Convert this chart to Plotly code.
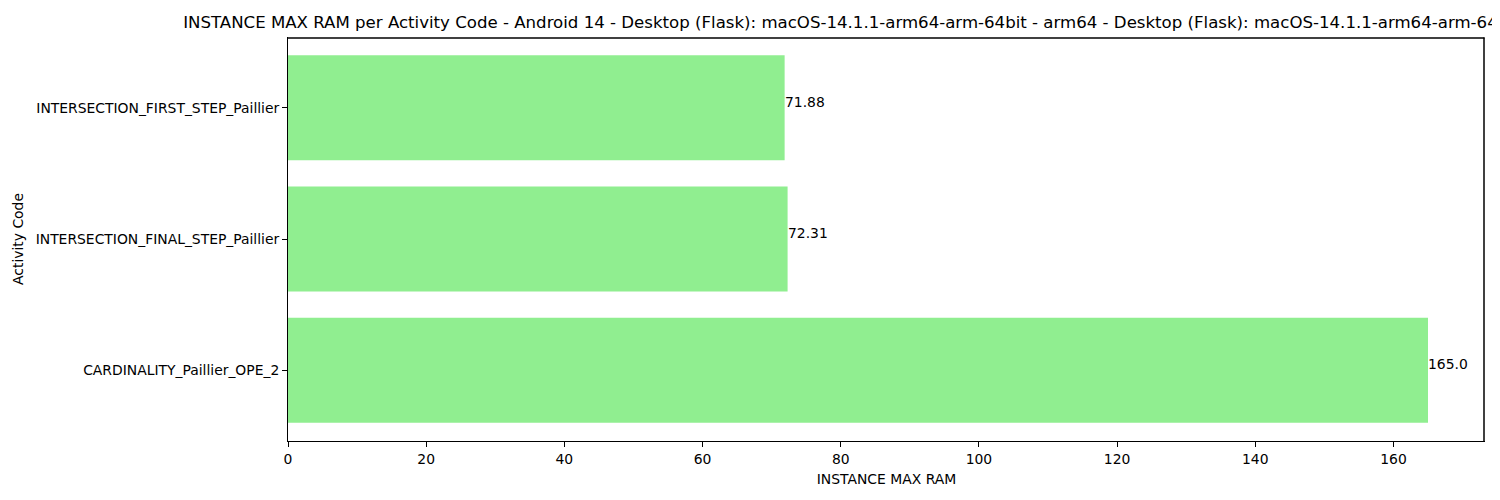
import plotly.graph_objects as go

categories = ["CARDINALITY_Paillier_OPE_2", "INTERSECTION_FINAL_STEP_Paillier", "INTERSECTION_FIRST_STEP_Paillier"]
values = [165.0, 72.31, 71.88]
labels = ["165.0", "72.31", "71.88"]
x_ticks = [0, 20, 40, 60, 80, 100, 120, 140, 160]

title = ("INSTANCE MAX RAM per Activity Code - Android 14 - Desktop (Flask): macOS-14.1.1-arm64-arm-64bit"
         " - arm64 - Desktop (Flask): macOS-14.1.1-arm64-arm-64bit - arm64")

FONT = "DejaVu Sans"

fig = go.Figure()
fig.add_trace(go.Bar(
    x=values, y=categories, orientation="h",
    marker=dict(color="#90EE90", line=dict(width=0)),
    hoverinfo="skip",
))

for v, c, t in zip(values, categories, labels):
    fig.add_annotation(x=v, y=c, text=t, showarrow=False, xanchor="left", yanchor="bottom",
                       xshift=-2, yshift=-4, font=dict(family=FONT, size=13.9, color="black"))

# page body has an 8px margin, so the figure is sized 16px smaller
W, H = 1484, 484
L, R, T, B = 280, 7, 29, 51
PW, PH = W - L - R, H - T - B
fig.update_layout(
    width=W, height=H,
    margin=dict(l=L, r=R, t=T, b=B, autoexpand=False),
    paper_bgcolor="white", plot_bgcolor="white",
    bargap=0.2,
    showlegend=False,
    font=dict(family=FONT, size=13.9, color="black"),
    title=dict(text=title, x=(L + W - R) / 2 / W, xanchor="center", y=1 - 14 / H, yanchor="middle",
               font=dict(family=FONT, size=16.6, color="black")),
    shapes=[
        # top and right spines, drawn just inside the plot area edge
        dict(type="line", xref="paper", yref="paper", x0=0, x1=1 - 0.5 / PW, y0=1 - 1 / PH, y1=1 - 1 / PH,
             line=dict(color="black", width=1.5), layer="above"),
        dict(type="line", xref="paper", yref="paper", x0=1 - 1 / PW, x1=1 - 1 / PW, y0=0, y1=1 - 0.5 / PH,
             line=dict(color="black", width=1.5), layer="above"),
    ],
)
fig.update_xaxes(
    range=[0, 173.25], tickvals=x_ticks, ticks="outside", ticklen=5, tickcolor="black",
    showline=True, linecolor="black", linewidth=1, showgrid=False, zeroline=False,
    title=dict(text="INSTANCE MAX RAM", font=dict(family=FONT, size=13.9), standoff=8),
    tickfont=dict(family=FONT, size=13.9),
)
fig.update_yaxes(
    type="category", categoryorder="array", categoryarray=categories,
    range=[-0.54, 2.54], ticks="outside", ticklen=5, tickcolor="black",
    showline=True, linecolor="black", linewidth=1, showgrid=False, zeroline=False,
    title=dict(text="Activity Code", font=dict(family=FONT, size=13.9), standoff=8),
    tickfont=dict(family=FONT, size=13.9),
)

fig.write_html("out.html")
